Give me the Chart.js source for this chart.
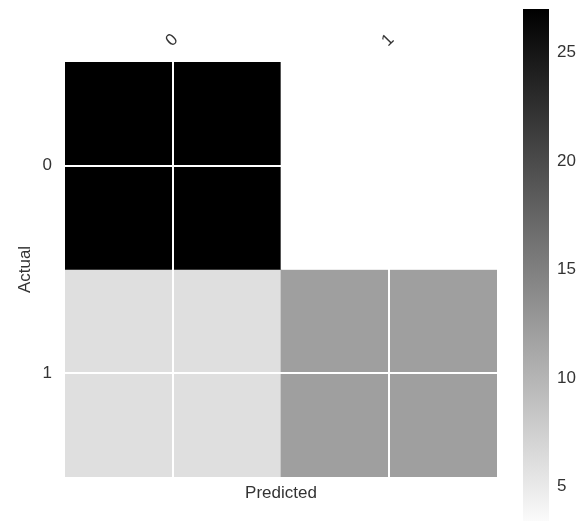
<!DOCTYPE html>
<html>
<head>
<meta charset="utf-8">
<script src="https://cdn.jsdelivr.net/npm/chart.js@4/dist/chart.umd.min.js"></script>
<style>
  html, body { margin: 0; padding: 0; background: #fff; overflow: hidden; }
  body { width: 581px; height: 521px; position: relative; }
  canvas { position: absolute; }
  #matrix { left: 0; top: 0; }
  #colorbar { left: 500px; top: 0; }
</style>
</head>
<body>
<canvas id="matrix" width="581" height="521"></canvas>
<canvas id="colorbar" width="81" height="545"></canvas>
<script>
// Confusion matrix: rows = actual class, columns = predicted class
const actualLabels = ['0', '1'];
const predictedLabels = ['0', '1'];
const counts = [
  [27, 3],
  [6, 12]
];
const colorbarTicks = [5, 10, 15, 20, 25];

const flat = counts.flat();
const vmin = Math.min(...flat);
const vmax = Math.max(...flat);

// reversed grey colour map: low counts white, high counts black
function grey(v) {
  const t = (v - vmin) / (vmax - vmin);
  const g = Math.round(255 * (1 - t));
  return `rgb(${g},${g},${g})`;
}

const FONT = { family: '"Liberation Sans", Arial, sans-serif', size: 17 };
const TEXT = '#333333';

// each row is a dataset of floating bars spanning one row band
const datasets = counts.map((row, r) => ({
  data: row.map(() => [r - 0.5, r + 0.5]),
  backgroundColor: row.map(grey),
  borderWidth: 0,
  barPercentage: 1,
  categoryPercentage: 1,
  grouped: false
}));

new Chart(document.getElementById('matrix'), {
  type: 'bar',
  data: { labels: predictedLabels, datasets },
  options: {
    responsive: false,
    animation: false,
    layout: { padding: { left: 0, right: 84, top: 0, bottom: 0 } },
    plugins: { legend: { display: false }, tooltip: { enabled: false } },
    scales: {
      x: {
        type: 'category',
        position: 'top',
        offset: true,
        grid: { offset: false, color: '#ffffff', lineWidth: 2, drawTicks: false, z: 1 },
        border: { display: false },
        ticks: { color: TEXT, font: FONT, minRotation: 45, maxRotation: 45, padding: 11, labelOffset: 10 },
        afterFit: (s) => { s.height = 62; }
      },
      xb: {
        type: 'category',
        position: 'bottom',
        labels: predictedLabels,
        grid: { display: false, drawTicks: false },
        border: { display: false },
        ticks: { display: false },
        title: { display: true, text: 'Predicted', color: TEXT, font: FONT, padding: { top: 0, bottom: 17 } },
        afterFit: (s) => { s.height = 44; }
      },
      y: {
        type: 'linear',
        min: -0.5,
        max: 1.5,
        reverse: true,
        grid: { color: '#ffffff', lineWidth: 2, drawTicks: false, z: 1 },
        border: { display: false },
        afterBuildTicks: (s) => { s.ticks = actualLabels.map((_, i) => ({ value: i })); },
        ticks: { color: TEXT, font: FONT, padding: 13, callback: (v) => actualLabels[v] },
        title: { display: true, text: 'Actual', color: TEXT, font: FONT, padding: { top: 15, bottom: 0 } },
        afterFit: (s) => { s.width = 65; }
      }
    }
  }
});

// colour bar: one bar spanning the full value range, filled with the map's gradient
new Chart(document.getElementById('colorbar'), {
  type: 'bar',
  data: {
    labels: [''],
    datasets: [{
      data: [[vmin, vmax]],
      borderWidth: 0,
      barPercentage: 1,
      categoryPercentage: 1,
      backgroundColor: (ctx) => {
        const chart = ctx.chart;
        if (!chart.chartArea) return '#888';
        const y = chart.scales.y;
        const g = chart.ctx.createLinearGradient(0, y.getPixelForValue(vmax), 0, y.getPixelForValue(vmin));
        g.addColorStop(0, grey(vmax));
        g.addColorStop(1, grey(vmin));
        return g;
      }
    }]
  },
  options: {
    responsive: false,
    animation: false,
    layout: { padding: { left: 23, right: 0, top: 9, bottom: 15 } },
    plugins: { legend: { display: false }, tooltip: { enabled: false } },
    scales: {
      x: { display: false, offset: true },
      y: {
        position: 'right',
        min: vmin,
        max: vmax,
        grid: { display: false, drawTicks: false },
        border: { display: false },
        afterBuildTicks: (s) => { s.ticks = colorbarTicks.map((v) => ({ value: v })); },
        ticks: { color: TEXT, font: FONT, padding: 8 },
        afterFit: (s) => { s.width = 32; s.paddingTop = 0; s.paddingBottom = 0; }
      }
    }
  }
});
</script>
</body>
</html>
